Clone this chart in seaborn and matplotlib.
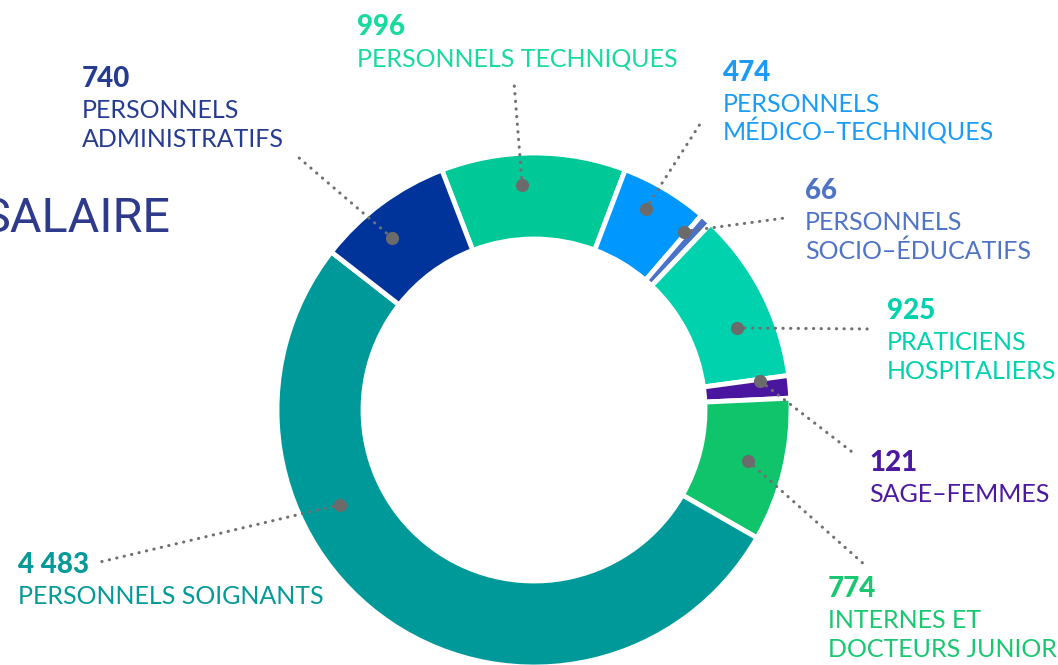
import matplotlib
matplotlib.use("Agg")
import matplotlib.pyplot as plt
import seaborn as sns
import numpy as np

# ---- data -------------------------------------------------------------
categories = [
    "PERSONNELS TECHNIQUES",
    "PERSONNELS MÉDICO-TECHNIQUES",
    "PERSONNELS SOCIO-ÉDUCATIFS",
    "PRATICIENS HOSPITALIERS",
    "SAGE-FEMMES",
    "INTERNES ET DOCTEURS JUNIOR",
    "PERSONNELS SOIGNANTS",
    "PERSONNELS ADMINISTRATIFS",
]
values = [996, 474, 66, 925, 121, 774, 4483, 740]
value_labels = ["996", "474", "66", "925", "121", "774", "4 483", "740"]
label_lines = [
    ["PERSONNELS TECHNIQUES"],
    ["PERSONNELS", "MÉDICO\u2013TECHNIQUES"],
    ["PERSONNELS", "SOCIO\u2013ÉDUCATIFS"],
    ["PRATICIENS", "HOSPITALIERS"],
    ["SAGE\u2013FEMMES"],
    ["INTERNES ET", "DOCTEURS JUNIOR"],
    ["PERSONNELS SOIGNANTS"],
    ["PERSONNELS", "ADMINISTRATIFS"],
]
slice_colors = ["#00C896", "#0098FF", "#4A72C8", "#00D2AD",
                "#4B169F", "#10C46C", "#009999", "#00349B"]
text_colors = ["#17DA9E", "#1A9BF5", "#4F74C6", "#00D2AD",
               "#4B1AA0", "#18C870", "#059A9A", "#263C91"]

# ---- layout (pixel coordinates, y from top) ---------------------------
W, H = 1058, 665
CX, CY = 534, 410
R_OUT, RING = 257, 86
# label anchor (left, baseline of number) and leader line end
label_pos = [(357, 35), (723, 81), (805, 199), (887, 319),
             (869, 471), (828, 597), (18, 573), (82, 87)]
leader_end = [(514, 82), (702, 121), (785, 218), (873, 329),
              (856, 455), (866, 566), (100, 562), (298, 157)]
dot_angle = [93, 61, 50, 22, 7.3, -13.4, 206, 129.5]
dot_radius = [225, 230, 233, 219, 228, 220, 216, 223]

sns.set_theme(style="white")
plt.rcParams["font.family"] = ["Lato", "DejaVu Sans"]

fig = plt.figure(figsize=(W / 100, H / 100), dpi=100)
ax = fig.add_axes([0, 0, 1, 1])


def fy(y):
    return H - y


ax.pie(values, colors=slice_colors, startangle=111, counterclock=False,
       radius=R_OUT, center=(CX, fy(CY)),
       wedgeprops=dict(width=RING, edgecolor="white", linewidth=3.5))

# title fragment cut at the left edge
ax.text(170, fy(232), "SALAIRE", ha="right", va="baseline",
        fontsize=35, fontweight="normal", color="#2E3A8C",
        family=["Roboto", "DejaVu Sans"])

for i in range(len(values)):
    a = np.deg2rad(dot_angle[i])
    dx = CX + dot_radius[i] * np.cos(a)
    dy = CY - dot_radius[i] * np.sin(a)
    ex, ey = leader_end[i]
    ax.plot([dx, ex], [fy(dy), fy(ey)], color="#707070", lw=2.2,
            linestyle=(0, (0.1, 2.4)), dash_capstyle="round", zorder=4)
    ax.scatter([dx], [fy(dy)], s=90, color="#6B6B6B", zorder=5, linewidths=0)

    lx, ly = label_pos[i]
    ax.text(lx, fy(ly), value_labels[i], ha="left", va="baseline",
            fontsize=20, fontweight="black", color=text_colors[i])
    for j, line in enumerate(label_lines[i]):
        ax.text(lx, fy(ly + 31 + 29 * j), line, ha="left", va="baseline",
                fontsize=18, fontweight="normal", color=text_colors[i])

ax.set_xlim(0, W)
ax.set_ylim(0, H)
ax.set_aspect("equal")
ax.axis("off")

plt.savefig("out.png", dpi=100)
plt.close()
